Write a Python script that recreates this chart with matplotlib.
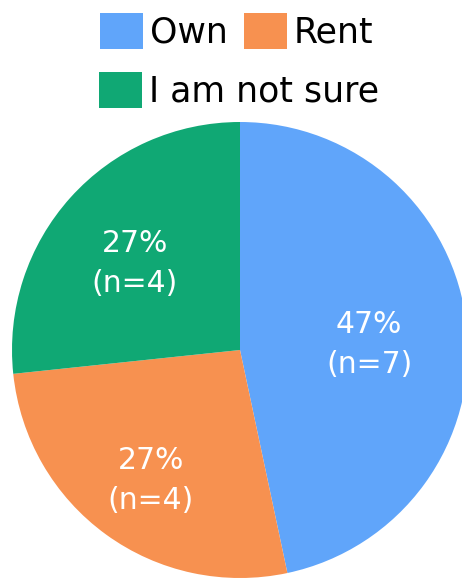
import matplotlib
matplotlib.use('Agg')
import matplotlib.pyplot as plt
from matplotlib.patches import Patch
import numpy as np

labels = ['Own', 'Rent', 'I am not sure']
counts = [7, 4, 4]
colors = ['#60a5fa', '#f79150', '#10a874']
# how far out each label sits (fraction of radius)
label_r = [0.57, 0.665, 0.62]

plt.rcParams['font.family'] = ['DejaVu Sans']

W, H = 462, 579
fig = plt.figure(figsize=(W / 100, H / 100), dpi=100)

# pie: centre (240, 350) px, radius 228 px
cx, cy, R = 240, 350, 228
ax = fig.add_axes([(cx - R) / W, (H - cy - R) / H, 2 * R / W, 2 * R / H])
ax.axis('off')

wedges, _ = ax.pie(counts, colors=colors, startangle=90, counterclock=False,
                   radius=1, center=(0, 0), frame=False,
                   wedgeprops=dict(linewidth=0))
ax.set_xlim(-1, 1)
ax.set_ylim(-1, 1)
ax.set_aspect('equal')

total = sum(counts)
for w, c, r in zip(wedges, counts, label_r):
    ang = np.deg2rad((w.theta1 + w.theta2) / 2)
    x, y = r * np.cos(ang), r * np.sin(ang) - 0.035
    pct = round(100 * c / total)
    ax.text(x, y, f'{pct}%\n(n={c})', ha='center', va='center', color='white',
            fontsize=21.5, linespacing=1.45)

handles = [Patch(facecolor=col, edgecolor='none') for col in colors]
leg_kw = dict(frameon=False, fontsize=25, handlelength=1.24, handleheight=1.24,
              handletextpad=0.2, columnspacing=0.45, borderaxespad=0, borderpad=0)
leg1 = fig.legend(handles[:2], labels[:2], ncol=2, loc='center',
                  bbox_to_anchor=(237 / W, 1 - 31 / H), **leg_kw)
leg2 = fig.legend(handles[2:], labels[2:], ncol=1, loc='center',
                  bbox_to_anchor=(239 / W, 1 - 90 / H), **leg_kw)

fig.savefig('out.png', dpi=100)
